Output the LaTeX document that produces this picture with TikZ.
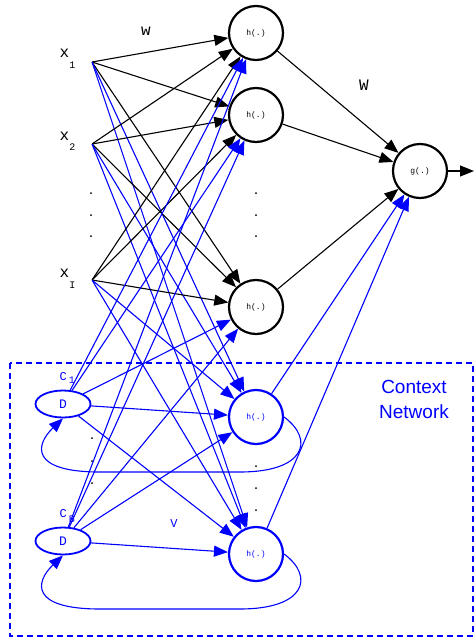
\documentclass[tikz,border=0pt]{standalone}
\definecolor{NetBlue}{HTML}{0000FF}
\definecolor{NetBlack}{HTML}{000000}
\usepackage{fontspec}
\setmonofont{Liberation Mono}
\setsansfont{Liberation Sans}
\usepackage{tikz}
\usetikzlibrary{arrows.meta, shapes.geometric}
\newcommand{\subfont}{\fontsize{10}{10}\selectfont}
\tikzset{
    hidden/.style={
        circle,
        draw=#1,
        line width=2.2pt,
        minimum size=54pt,
        inner sep=0pt,
        text=#1,
        font=\ttfamily\fontsize{8}{8}\selectfont
    },
    hidden/.default=NetBlack,
    context/.style={
        ellipse,
        draw=NetBlue,
        line width=1.8pt,
        minimum width=55pt,
        minimum height=27pt,
        inner sep=0pt,
        text=NetBlue,
        font=\ttfamily\fontsize{13}{13}\selectfont
    },
    inpoint/.style={
        inner sep=0pt,
        minimum size=0pt
    },
    unitlabel/.style={
        inner sep=0pt,
        text=#1,
        font=\ttfamily\fontsize{16}{16}\selectfont
    },
    unitlabel/.default=NetBlack,
    smalllabel/.style={
        inner sep=0pt,
        text=NetBlue,
        font=\ttfamily\fontsize{12}{12}\selectfont
    },
    arrow/.style={
        -{Triangle[length=14pt,width=11pt]},
        line width=1.1pt,
        #1
    },
    arrow/.default=NetBlack,
    dotmark/.style={
        fill=NetBlack
    }
}

\begin{document}
\begin{tikzpicture}[x=1pt, y=1pt]
    \useasboundingbox (0,0) rectangle (475,-641);

    % Context network frame
    \draw[NetBlue, line width=1.5pt, dash pattern=on 6pt off 4pt] (10,-363) rectangle (473,-636);
    \node[font=\sffamily\fontsize{19}{25}\selectfont, text=NetBlue, align=center] (ctxname) at (414,-399) {Context\\Network};

    % Input units
    \node[inpoint] (x1) at (92,-62) {};
    \node[inpoint] (x2) at (92,-144) {};
    \node[inpoint] (xI) at (92,-280) {};
    \node[unitlabel, anchor=base west] (lx1) at (59.5,-57) {x\raisebox{-11pt}{\subfont 1}};
    \node[unitlabel, anchor=base west] (lx2) at (59.5,-140) {x\raisebox{-10pt}{\subfont 2}};
    \node[unitlabel, anchor=base west] (lxI) at (59.5,-277) {x\raisebox{-11pt}{\subfont I}};
    \foreach \y in {193,215,236} \fill[dotmark] (91,-\y) circle (1pt);

    % Hidden units
    \node[hidden] (h1) at (256,-33) {h(.)};
    \node[hidden] (h2) at (256,-115) {h(.)};
    \node[hidden] (h3) at (256,-307) {h(.)};
    \node[hidden=NetBlue] (h4) at (256,-417) {h(.)};
    \node[hidden=NetBlue] (h5) at (256,-554) {h(.)};
    \foreach \y in {193,215,236} \fill[dotmark] (256,-\y) circle (1pt);
    \foreach \y in {466,488,510} \fill[dotmark] (256,-\y) circle (1pt);

    % Output unit
    \node[hidden] (g) at (420,-171) {g(.)};
    \coordinate (out) at (474,-171);

    % Context units
    \node[context] (D1) at (63,-404) {D};
    \node[context] (D2) at (63,-541) {D};
    \node[smalllabel, anchor=base west] (lc1) at (59.5,-380) {C\hspace{2pt}\raisebox{-3pt}{\subfont 1}};
    \node[smalllabel, anchor=base west] (lcB) at (59.5,-517) {C\hspace{2pt}\raisebox{-5pt}{\subfont B}};
    \foreach \y in {438,461,483} \fill[dotmark] (92,-\y) circle (1pt);

    % Weight labels
    \node[unitlabel, anchor=base] (lw) at (146,-35) {w};
    \node[unitlabel, anchor=base] (lW) at (364,-90) {W};
    \node[smalllabel, anchor=base] (lV) at (174,-527) {V};

    % Connections
    \foreach \src in {x1,x2,xI} {
        \foreach \dst in {h1,h2,h3} \draw[arrow] (\src) -- (\dst);
        \foreach \dst in {h4,h5} \draw[arrow=NetBlue] (\src) -- (\dst);
    }
    \foreach \src in {D1,D2}
        \foreach \dst in {h1,h2,h3,h4,h5} \draw[arrow=NetBlue] (\src) -- (\dst);
    \foreach \src in {h1,h2,h3} \draw[arrow] (\src) -- (g);
    \foreach \src in {h4,h5} \draw[arrow=NetBlue] (\src) -- (g);
    \draw[arrow] (g) -- (out);

    % Copy-back loops
    \draw[arrow=NetBlue] (h4.east) .. controls (315,-440) and (305,-472) .. (240,-472)
        -- (100,-472) .. controls (30,-472) and (35,-445) .. (D1.south);
    \draw[arrow=NetBlue] (h5.east) .. controls (315,-577) and (305,-609) .. (240,-609)
        -- (100,-609) .. controls (30,-609) and (35,-582) .. (D2.south);
\end{tikzpicture}
\end{document}
